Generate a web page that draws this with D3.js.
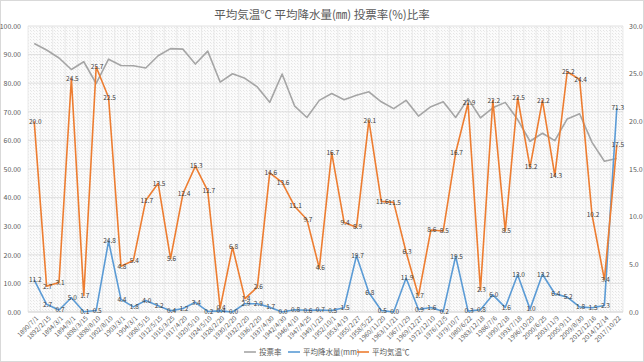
<!DOCTYPE html>
<html>
<head>
<meta charset="utf-8">
<script src="https://cdn.jsdelivr.net/npm/d3@7"></script>
<style>
  body { margin: 0; background: #fff; }
  svg { font-family: "Noto Sans CJK JP", "Noto Sans", sans-serif; }
</style>
</head>
<body>
<div id="chart"></div>
<script>
// 選挙日
const dates = ["1890/7/1","1892/2/15","1894/3/1","1894/9/1","1898/3/15","1898/8/10","1902/8/10","1903/3/1",
  "1904/3/1","1908/5/15","1912/5/15","1915/3/25","1917/4/20","1920/5/10","1924/5/10","1928/2/20",
  "1930/2/20","1932/2/20","1936/2/20","1937/4/30","1942/4/30","1946/4/10","1947/4/25","1949/1/23",
  "1952/10/1","1953/4/19","1955/2/27","1958/5/22","1960/11/20","1963/11/21","1967/1/29","1969/12/27",
  "1972/12/10","1976/12/5","1979/10/7","1980/6/22","1983/12/18","1986/7/6","1990/2/18","1993/7/18",
  "1996/10/20","2000/6/25","2003/11/9","2005/9/11","2009/8/30","2012/12/16","2014/12/14","2017/10/22"];

// 投票率 (左軸)
const turnout = [93.9,91.6,88.8,84.8,87.5,79.9,88.4,86.2,86.1,85.3,89.6,92.1,91.9,86.7,91.2,80.4,
  83.3,81.7,78.7,73.3,83.2,72.1,68.0,74.0,76.4,74.2,75.8,77.0,73.5,71.1,74.0,68.5,
  71.8,73.5,68.0,74.6,67.9,71.4,73.3,67.3,59.7,62.5,59.9,67.5,69.3,59.3,52.7,53.7];

// 平均降水量(mm) (左軸)
const rain = [11.2,2.7,0.7,5.0,0.1,0.5,24.8,4.4,1.8,4.0,2.2,0.4,1.2,3.4,0.2,0.4,
  0.0,2.9,2.9,1.7,0.0,0.8,0.6,0.7,0.5,1.5,19.7,6.8,0.5,0.0,11.9,0.9,
  1.6,0.2,19.5,0.3,0.8,6.0,1.6,13.0,1.0,13.2,6.4,5.2,1.8,1.5,2.3,71.3];

// 平均気温℃ (右軸)
const temp = [20.0,2.7,3.1,24.5,1.7,25.7,22.5,4.8,5.4,11.7,13.5,5.6,12.4,15.3,12.7,0.4,
  6.8,1.4,2.6,14.6,13.6,11.1,9.7,4.6,16.7,9.4,8.9,20.1,11.6,11.5,6.3,1.7,
  8.6,8.5,16.7,21.9,2.3,22.2,8.5,22.5,15.2,22.2,14.3,25.2,24.4,10.2,3.4,17.5];

const leftTicks = [0,10,20,30,40,50,60,70,80,90,100];
const rightTicks = [0,5,10,15,20,25,30];

const width = 644, height = 362;
const plot = { left: 28, right: 623, top: 26, bottom: 312 };
const textColor = "#595959";
const gridColor = "#d9d9d9";

const svg = d3.select("#chart").append("svg")
  .attr("width", width)
  .attr("height", height);

svg.append("rect")
  .attr("x", 0.5).attr("y", 0.5)
  .attr("width", width - 1).attr("height", height - 1)
  .attr("fill", "#fff")
  .attr("stroke", gridColor);

// 背景の細かい模様
const defs = svg.append("defs");
const pat = defs.append("pattern")
  .attr("id", "dots")
  .attr("width", 3).attr("height", 3)
  .attr("patternUnits", "userSpaceOnUse");
pat.append("rect").attr("width", 3).attr("height", 3).attr("fill", "#fbfbfb");
pat.append("rect").attr("x", 0).attr("y", 0).attr("width", 1).attr("height", 1).attr("fill", "#e4e4e4");
pat.append("rect").attr("x", 1).attr("y", 1).attr("width", 1).attr("height", 1).attr("fill", "#ececec");

const x = d3.scaleBand()
  .domain(dates)
  .range([plot.left, plot.right]);
const cx = d => x(d) + x.bandwidth() / 2;

const yL = d3.scaleLinear().domain([0, 100]).range([plot.bottom, plot.top]);
const yR = d3.scaleLinear().domain([0, 30]).range([plot.bottom, plot.top]);

svg.append("rect")
  .attr("x", plot.left).attr("y", plot.top)
  .attr("width", plot.right - plot.left)
  .attr("height", plot.bottom - plot.top)
  .attr("fill", "url(#dots)");

// 縦のグリッド
svg.append("g")
  .selectAll("line")
  .data(dates.concat(["end"]))
  .join("line")
  .attr("x1", (d, i) => plot.left + i * x.bandwidth())
  .attr("x2", (d, i) => plot.left + i * x.bandwidth())
  .attr("y1", plot.top).attr("y2", plot.bottom)
  .attr("stroke", "#e6e6e6")
  .attr("stroke-width", 0.8);

// 横のグリッド
svg.append("g")
  .selectAll("line")
  .data(leftTicks)
  .join("line")
  .attr("x1", plot.left).attr("x2", plot.right)
  .attr("y1", d => yL(d)).attr("y2", d => yL(d))
  .attr("stroke", gridColor)
  .attr("stroke-width", 0.8);

// 軸
const axisL = svg.append("g")
  .attr("transform", `translate(${plot.left},0)`)
  .call(d3.axisLeft(yL).tickValues(leftTicks).tickFormat(d3.format(".2f")).tickSize(0).tickPadding(7));
const axisR = svg.append("g")
  .attr("transform", `translate(${plot.right},0)`)
  .call(d3.axisRight(yR).tickValues(rightTicks).tickFormat(d3.format(".1f")).tickSize(0).tickPadding(6));
[axisL, axisR].forEach(a => {
  a.select(".domain").remove();
  a.selectAll("text").attr("fill", textColor).attr("font-size", 7).attr("font-family", "Noto Sans CJK JP, sans-serif");
});

svg.append("line")
  .attr("x1", plot.left).attr("x2", plot.right)
  .attr("y1", plot.bottom).attr("y2", plot.bottom)
  .attr("stroke", gridColor);

// 日付ラベル
svg.append("g")
  .selectAll("text")
  .data(dates)
  .join("text")
  .attr("transform", d => `translate(${cx(d) + 3},${plot.bottom + 5}) rotate(-45)`)
  .attr("text-anchor", "end")
  .attr("dy", "0.35em")
  .attr("font-size", 6.5)
  .attr("fill", textColor)
  .text(d => d);

// 折れ線
const series = [
  { name: "投票率", values: turnout, y: yL, color: "#a5a5a5", labels: false },
  { name: "平均降水量(mm)", values: rain, y: yL, color: "#5b9bd5", labels: true },
  { name: "平均気温℃", values: temp, y: yR, color: "#ed7d31", labels: true }
];

series.forEach(s => {
  const line = d3.line()
    .x((v, i) => cx(dates[i]))
    .y(v => s.y(v));
  svg.append("path")
    .datum(s.values)
    .attr("fill", "none")
    .attr("stroke", s.color)
    .attr("stroke-width", 1.6)
    .attr("stroke-linejoin", "round")
    .attr("d", line);
});

series.filter(s => s.labels).forEach(s => {
  svg.append("g")
    .selectAll("text")
    .data(s.values)
    .join("text")
    .attr("x", (v, i) => cx(dates[i]) + 1)
    .attr("y", v => s.y(v))
    .attr("dy", "0.35em")
    .attr("text-anchor", "middle")
    .attr("font-size", 6.5)
    .attr("fill", "#404040")
    .text(v => d3.format(".1f")(v));
});

// タイトル
svg.append("text")
  .attr("x", 322).attr("y", 15)
  .attr("text-anchor", "middle")
  .attr("dy", "0.35em")
  .attr("font-size", 11.5)
  .attr("fill", textColor)
  .text("平均気温℃  平均降水量(㎜)  投票率(%)比率");

// 凡例
const legendX = [244, 288, 357];
const legend = svg.append("g");
series.forEach((s, i) => {
  const g = legend.append("g").attr("transform", `translate(${legendX[i]},352)`);
  g.append("line")
    .attr("x1", 0).attr("x2", 12)
    .attr("stroke", s.color)
    .attr("stroke-width", 1.6);
  g.append("text")
    .attr("x", 15)
    .attr("dy", "0.35em")
    .attr("font-size", 7.5)
    .attr("fill", textColor)
    .text(s.name);
});
</script>
</body>
</html>
